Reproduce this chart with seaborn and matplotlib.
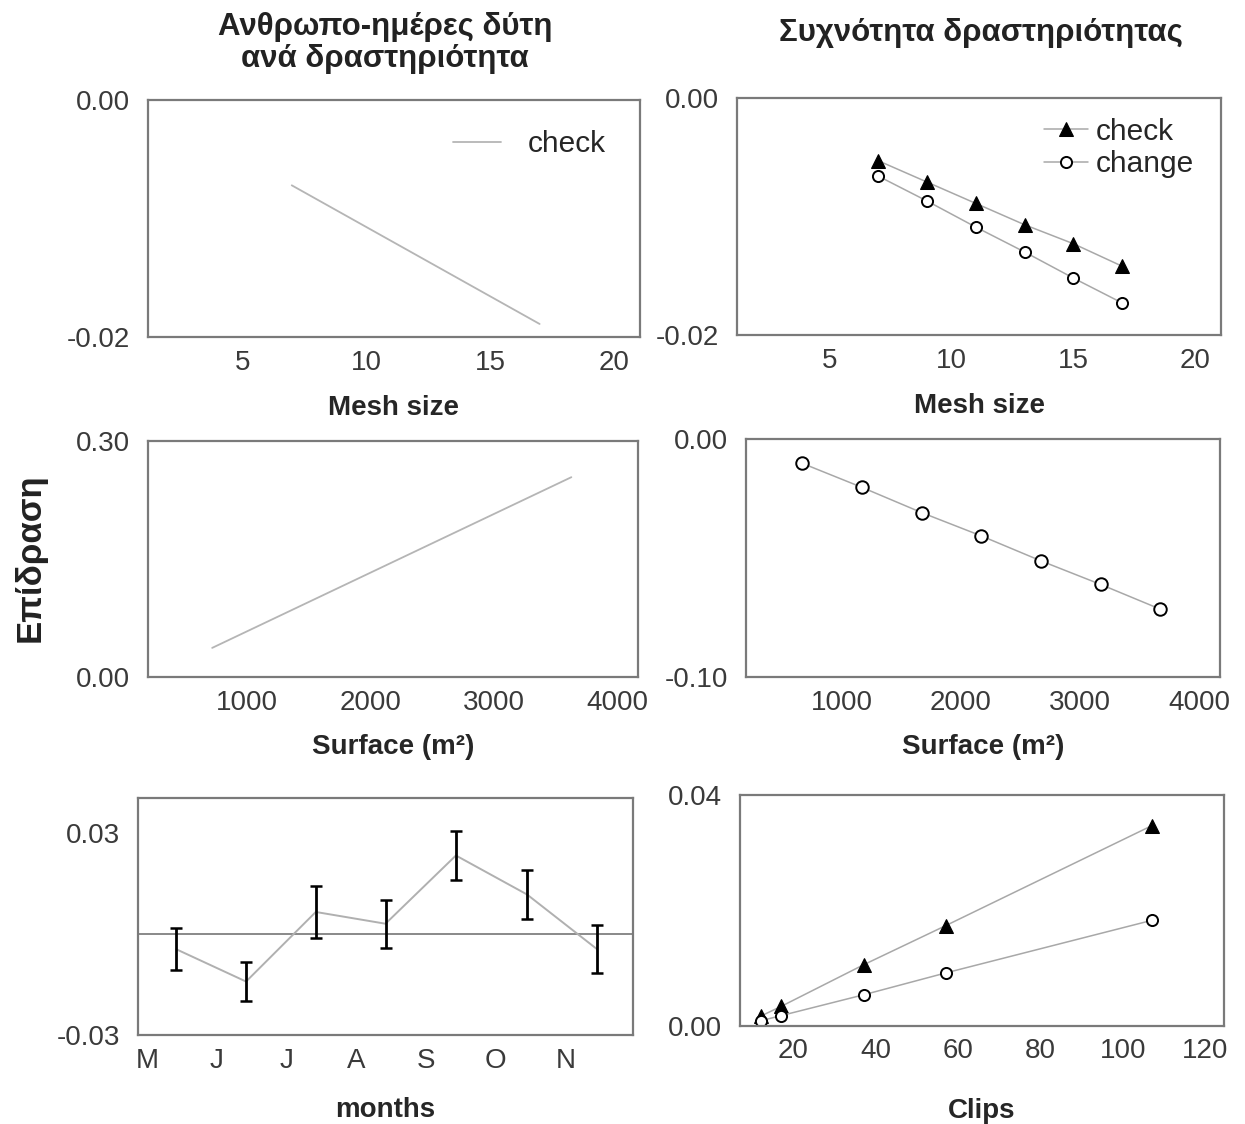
import matplotlib
matplotlib.use("Agg")
import matplotlib.pyplot as plt
import seaborn as sns
import pandas as pd

# ---------------- data ----------------
mesh_x = [7, 9, 11, 13, 15, 17]
mesh_check = [-0.0053, -0.0071, -0.0089, -0.0107, -0.0123, -0.0142]
mesh_change = [-0.0066, -0.0087, -0.0109, -0.0130, -0.0152, -0.0173]
mdays_mesh_x = [7, 17]
mdays_mesh_y = [-0.0072, -0.0189]

surf_x = [670, 1170, 1670, 2170, 2670, 3170, 3670]
surf_change = [-0.0102, -0.0203, -0.0309, -0.0407, -0.0512, -0.0611, -0.0715]
mdays_surf_x = [720, 3630]
mdays_surf_y = [0.037, 0.254]

month_labels = ["M", "J", "J", "A", "S", "O", "N"]
month_x = [0.42, 1.42, 2.42, 3.42, 4.43, 5.45, 6.45]
month_eff = [-0.0045, -0.0141, 0.0066, 0.0031, 0.0234, 0.0118, -0.0044]
month_err = [0.0062, 0.0058, 0.0076, 0.0072, 0.0072, 0.0074, 0.0071]

clips_x = [12, 17, 37, 57, 107]
clips_check = [0.0017, 0.0034, 0.0106, 0.0174, 0.0347]
clips_change = [0.0009, 0.0018, 0.0054, 0.0092, 0.0183]

title_left = "Ανθρωπο-ημέρες δύτη\nανά δραστηριότητα"
title_right = "Συχνότητα δραστηριότητας"
ylabel_all = "Επίδραση"

# ---------------- style ----------------
sns.set_theme(style="white")
plt.rcParams["font.family"] = ["Liberation Sans", "DejaVu Sans"]
plt.rcParams["axes.unicode_minus"] = False

W, H = 1245, 1124
fig = plt.figure(figsize=(W / 100, H / 100), dpi=100)


def add_ax(x0, x1, y0, y1):
    return fig.add_axes([x0 / W, 1 - y1 / H, (x1 - x0) / W, (y1 - y0) / H])


LINE_GREY = "#a8a8a8"
TICK_FS = 20
LABEL_FS = 20


def style(ax, xlim, ylim, xticks, yticks, yfmt, xlabel, xticklabels=None, labelpad=10):
    ax.set_xlim(*xlim)
    ax.set_ylim(*ylim)
    ax.set_xticks(xticks)
    if xticklabels is not None:
        ax.set_xticklabels(xticklabels)
    ax.set_yticks(yticks)
    ax.set_yticklabels([yfmt.format(v) for v in yticks])
    ax.tick_params(length=0, labelsize=TICK_FS, labelcolor="#3a3a3a")
    ax.tick_params(axis="x", pad=9)
    ax.tick_params(axis="y", pad=13)
    for s in ax.spines.values():
        s.set_visible(True)
        s.set_color("#7a7a7a")
        s.set_linewidth(1.6)
    ax.set_xlabel(xlabel, fontsize=LABEL_FS, fontweight="bold", labelpad=labelpad)
    ax.set_ylabel("")


def series_df(x, y):
    return pd.DataFrame({"x": x, "y": y})


# Top-left
ax = add_ax(148, 640, 100, 337)
sns.lineplot(data=series_df(mdays_mesh_x, mdays_mesh_y), x="x", y="y", ax=ax,
             color="#b5b5b5", lw=1.3, label="check")
style(ax, (1.2, 21.05), (-0.02, 0.0), [5, 10, 15, 20], [-0.02, 0.0], "{:.2f}", "Mesh size",
      labelpad=14)
ax.legend(loc="upper right", frameon=False, fontsize=21.5, handlelength=1.6,
          handletextpad=0.9, bbox_to_anchor=(0.985, 0.985))

# Top-right
ax = add_ax(737, 1221, 98, 335)
sns.lineplot(data=series_df(mesh_x, mesh_check), x="x", y="y", ax=ax, color=LINE_GREY, lw=1.1,
             marker="^", markersize=10, markerfacecolor="black", markeredgecolor="black",
             label="check")
sns.lineplot(data=series_df(mesh_x, mesh_change), x="x", y="y", ax=ax, color=LINE_GREY, lw=1.1,
             marker="o", markersize=8, markerfacecolor="white", markeredgecolor="black",
             markeredgewidth=1.4, label="change")
style(ax, (1.2, 21.05), (-0.02, 0.0), [5, 10, 15, 20], [-0.02, 0.0], "{:.2f}", "Mesh size",
      labelpad=14)
ax.legend(loc="upper right", frameon=False, fontsize=21.5, handlelength=1.5,
          handletextpad=0.25, labelspacing=0.15, bbox_to_anchor=(1.0, 1.03))

# Middle-left
ax = add_ax(148, 638, 441, 677)
sns.lineplot(data=series_df(mdays_surf_x, mdays_surf_y), x="x", y="y", ax=ax,
             color="#b5b5b5", lw=1.3)
style(ax, (200, 4170), (0.0, 0.30), [1000, 2000, 3000, 4000], [0.0, 0.30], "{:.2f}",
      "Surface (m²)", labelpad=13)

# Middle-right
ax = add_ax(746, 1220, 439, 677)
sns.lineplot(data=series_df(surf_x, surf_change), x="x", y="y", ax=ax, color=LINE_GREY, lw=1.1,
             marker="o", markersize=9, markerfacecolor="white", markeredgecolor="black",
             markeredgewidth=1.4)
style(ax, (200, 4170), (-0.10, 0.0), [1000, 2000, 3000, 4000], [-0.10, 0.0], "{:.2f}",
      "Surface (m²)", labelpad=13)

# Bottom-left
ax = add_ax(138, 633, 798, 1035)
ax.axhline(0, color="#6a6a6a", lw=1.1, zorder=1)
sns.lineplot(data=series_df(month_x, month_eff), x="x", y="y", ax=ax, color="#b0b0b0", lw=1.4)
ax.errorbar(month_x, month_eff, yerr=month_err, fmt="none", ecolor="black",
            elinewidth=2.0, capsize=4, capthick=1.8, zorder=3)
style(ax, (-0.13, 6.97), (-0.03, 0.0405), list(range(len(month_labels))), [-0.03, 0.03],
      "{:.2f}", "months", xticklabels=month_labels, labelpad=17)

# Bottom-right
ax = add_ax(740, 1224, 795, 1026)
sns.lineplot(data=series_df(clips_x, clips_check), x="x", y="y", ax=ax, color=LINE_GREY, lw=1.1,
             marker="^", markersize=10, markerfacecolor="black", markeredgecolor="black")
sns.lineplot(data=series_df(clips_x, clips_change), x="x", y="y", ax=ax, color=LINE_GREY, lw=1.1,
             marker="o", markersize=8, markerfacecolor="white", markeredgecolor="black",
             markeredgewidth=1.4)
style(ax, (7, 124.5), (0.0, 0.04), [20, 40, 60, 80, 100, 120], [0.0, 0.04], "{:.2f}", "Clips",
      labelpad=24)

# Titles and shared y label
fig.text(385 / W, 1 - 43 / H, title_left, ha="center", va="center", fontsize=22.5,
         fontweight="bold", linespacing=1.1, color="#222222")
fig.text(981 / W, 1 - 33 / H, title_right, ha="center", va="center", fontsize=22.5,
         fontweight="bold", color="#222222")
fig.text(30 / W, 1 - 558 / H, ylabel_all, ha="center", va="center", rotation=90,
         fontsize=25, fontweight="bold", color="#222222")

fig.savefig("out.png", dpi=100, facecolor="white")
